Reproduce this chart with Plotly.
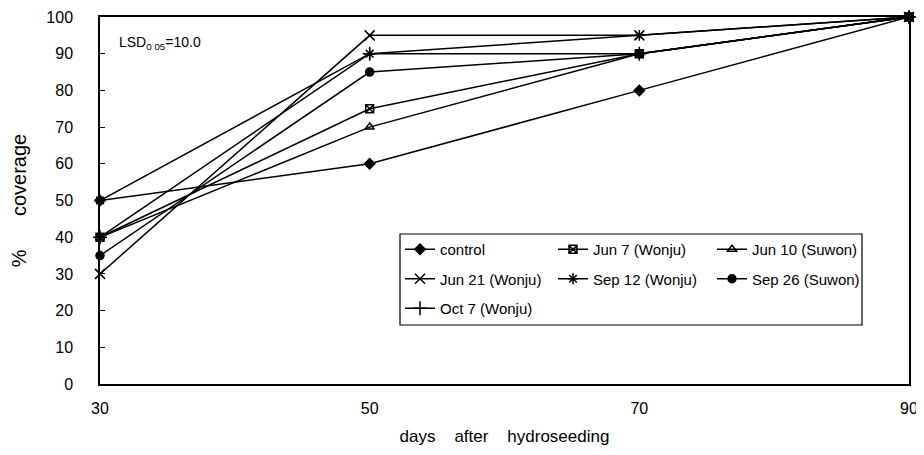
import plotly.graph_objects as go

days = [30, 50, 70, 90]
control = [50, 60, 80, 100]
jun7 = [40, 75, 90, 100]
jun10 = [40, 70, 90, 100]
jun21 = [30, 95, 95, 100]
sep12 = [50, 90, 95, 100]
sep26 = [35, 85, 90, 100]
oct7 = [40, 90, 90, 100]

y_ticks = list(range(0, 101, 10))
x_ticks = [30, 50, 70, 90]

series = [
    ("control", control, "diamond", "legend", 8),
    ("Jun 21 (Wonju)", jun21, "x-thin-open", "legend", 10),
    ("Oct 7 (Wonju)", oct7, "cross-thin-open", "legend", 10),
    ("Jun 7 (Wonju)", jun7, "square-x-open", "legend2", 8),
    ("Sep 12 (Wonju)", sep12, "asterisk-open", "legend2", 9),
    ("Jun 10 (Suwon)", jun10, "triangle-up-open", "legend3", 8),
    ("Sep 26 (Suwon)", sep26, "circle", "legend3", 8),
]

fig = go.Figure()
for i, (name, vals, sym, leg, sz) in enumerate(series):
    fig.add_trace(go.Scatter(
        x=days, y=vals, name=name, mode="lines+markers",
        line=dict(color="black", width=1.5),
        marker=dict(symbol=sym, size=sz, color="black",
                    line=dict(color="black", width=1.5)),
        legend=leg, legendgroup=name, cliponaxis=False,
    ))

# page has an 8px body margin at top-left; figure fills the rest of the window
OFF = 8
W, H = 924 - OFF, 455 - OFF
L, R, T, B = 100, 909, 17, 384   # plot area in window pixels
pw, ph = R - L, B - T

def px(x):
    return (x - L) / pw

def py(y):
    return (B - y) / ph

FONT = "Liberation Sans, Arial, sans-serif"

leg_common = dict(
    bgcolor="rgba(0,0,0,0)", borderwidth=0, orientation="v",
    font=dict(family=FONT, size=15, color="black"),
    yanchor="top", xanchor="left", tracegroupgap=7, itemwidth=30,
)

fig.update_layout(
    width=W, height=H,
    margin=dict(l=L - OFF, r=W - (R - OFF), t=T - OFF, b=H - (B - OFF)),
    paper_bgcolor="white", plot_bgcolor="white",
    font=dict(family=FONT, color="black"),
    legend=dict(x=px(400), y=py(233), **leg_common),
    legend2=dict(x=px(553), y=py(233), **leg_common),
    legend3=dict(x=px(712), y=py(233), **leg_common),
    xaxis=dict(
        range=[30, 90], tickvals=x_ticks, ticktext=[str(v) for v in x_ticks],
        showgrid=False, zeroline=False, showline=True, linecolor="black",
        linewidth=1.5, mirror=True, ticks="", ticklabelstandoff=9,
        ticklabeloverflow="allow",
        tickfont=dict(size=16), automargin=False,
        title=dict(text="days\u00a0\u00a0\u00a0 after\u00a0\u00a0\u00a0 hydroseeding",
                   font=dict(size=17), standoff=14),
    ),
    yaxis=dict(
        range=[0, 100], tickvals=y_ticks,
        showgrid=False, zeroline=False, showline=True, linecolor="black",
        linewidth=1.5, mirror=True, ticks="inside", ticklen=5, tickwidth=1,
        tickcolor="black", ticklabelstandoff=22, automargin=False,
        ticklabeloverflow="allow",
        tickfont=dict(size=16),
        title=dict(text="\u00a0\u00a0\u00a0\u00a0%\u00a0\u00a0\u00a0\u00a0\u00a0 coverage",
                   font=dict(size=20), standoff=19),
    ),
    shapes=[dict(type="rect", xref="paper", yref="paper",
                 x0=px(400), x1=px(862), y0=py(325), y1=py(234),
                 line=dict(color="black", width=1.2), fillcolor="rgba(0,0,0,0)")],
    annotations=[dict(text="LSD<sub>0 05</sub>=10.0", xref="paper", yref="paper",
                      x=px(117), y=py(43), xanchor="left", yanchor="middle",
                      showarrow=False, font=dict(size=14))],
)

fig.write_html("out.html")
